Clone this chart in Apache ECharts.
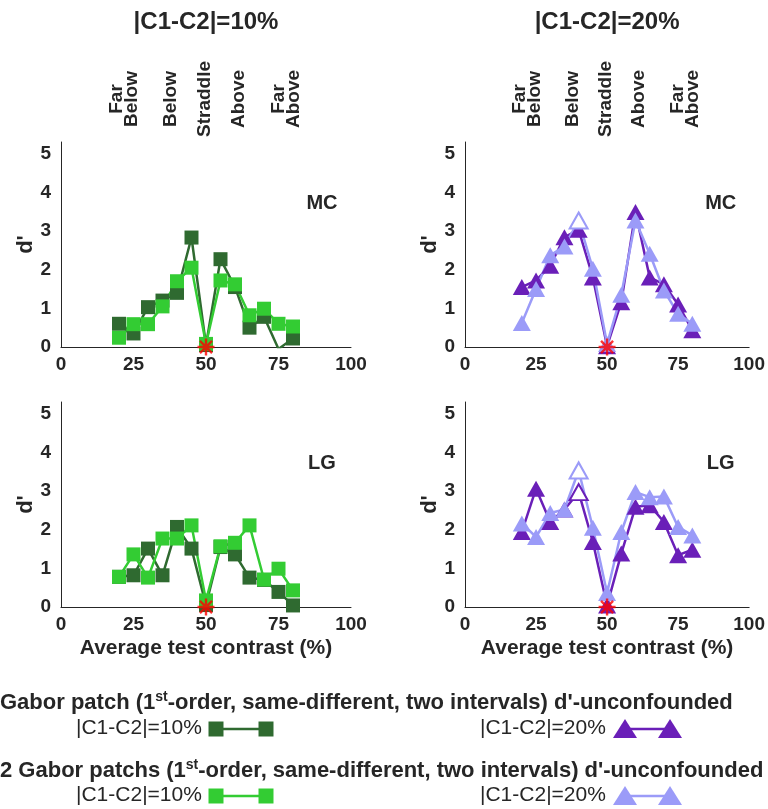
<!DOCTYPE html>
<html><head><meta charset="utf-8">
<script src="https://cdn.jsdelivr.net/npm/echarts@6/dist/echarts.min.js"></script>
<style>html,body{margin:0;padding:0;background:#fff}#c{width:768px;height:809px}</style>
</head><body><div id="c"></div>
<script>
// ---- data ----
const contrast = [20, 25, 30, 35, 40, 45, 50, 55, 60, 65, 70, 75, 80];
// MC observer
const mcOne10 = [0.6, 0.35, 1.03, 1.2, 1.4, 2.83, 0.05, 2.27, 1.55, 0.5, 0.78, -0.05, 0.22];
const mcTwo10 = [0.24, 0.59, 0.59, 1.05, 1.7, 2.05, 0.08, 1.72, 1.62, 0.82, 0.99, 0.6, 0.53];
const mcOne20 = [1.55, 1.72, 2.1, 2.84, 3.03, 1.8, 0.02, 1.16, 3.49, 1.8, 1.62, 1.1, 0.43];
const mcTwo20 = [0.62, 1.5, 2.37, 2.6, 3.27, 2.02, 0.08, 1.35, 3.27, 2.41, 1.46, 0.86, 0.6];
// LG observer
const lgOne10 = [0.78, 0.82, 1.51, 0.82, 2.07, 1.51, 0.05, 1.55, 1.36, 0.76, 0.7, 0.39, 0.04];
const lgTwo10 = [0.78, 1.36, 0.76, 1.77, 1.77, 2.11, 0.17, 1.57, 1.66, 2.11, 0.71, 0.99, 0.43];
const lgOne20 = [1.94, 3.06, 2.2, 2.52, 2.97, 1.68, 0.04, 1.38, 2.59, 2.63, 2.2, 1.34, 1.48];
const lgTwo20 = [2.16, 1.81, 2.43, 2.52, 3.53, 2.05, 0.36, 1.94, 2.97, 2.84, 2.86, 2.07, 1.85];
// open (unfilled) markers, by index into contrast
const openMcTwo20 = [4];
const openLgOne20 = [4];
const openLgTwo20 = [4];
const chancePoint = [50, 0];
const xTicks = [0, 25, 50, 75, 100];
const yTicks = [0, 1, 2, 3, 4, 5];
const topLabels = ['Far\nBelow', 'Below', 'Straddle', 'Above', 'Far\nAbove'];
const topLabelAt = [21.8, 37.8, 49.6, 61.2, 77.6];
const panelTitles = ['|C1-C2|=10%', '|C1-C2|=20%'];
const observers = ['MC', 'LG'];
const legendTitles = ['Gabor patch (1', 'st', '-order, same-different, two intervals) d\'-unconfounded',
                      '2 Gabor patchs (1', 'st', '-order, same-different, two intervals) d\'-unconfounded'];
const legendNames = ['|C1-C2|=10%', '|C1-C2|=20%'];

// ---- style ----
const FONT = '"Liberation Sans", Arial, Helvetica, sans-serif';
const INK = '#262626';
const DARK_GREEN = '#2f6a30';
const LIGHT_GREEN = '#33cc33';
const DARK_PURPLE = '#6a1fb8';
const LIGHT_PURPLE = '#9b9bf8';

const chart = echarts.init(document.getElementById('c'), null, {renderer: 'canvas'});

const grids = [
  {left: 61, top: 142, width: 290, height: 205},
  {left: 465, top: 142, width: 288, height: 205},
  {left: 61, top: 402, width: 290, height: 205},
  {left: 465, top: 402, width: 288, height: 205}
];

const xAxes = grids.map((g, i) => ({
  type: 'value', gridIndex: i, min: xTicks[0], max: xTicks[xTicks.length - 1], interval: 25,
  axisLine: {show: true, onZero: false, lineStyle: {color: INK, width: 1}},
  axisTick: {show: false}, splitLine: {show: false},
  axisLabel: {fontSize: 19, fontWeight: 'bold', color: INK, margin: 8, fontFamily: FONT},
  name: i >= 2 ? 'Average test contrast (%)' : '',
  nameLocation: 'middle', nameGap: 31,
  nameTextStyle: {fontSize: 21, fontWeight: 'bold', color: INK, fontFamily: FONT}
}));

const yAxes = grids.map((g, i) => ({
  type: 'value', gridIndex: i, min: yTicks[0], max: 5.3, interval: 1,
  axisLine: {show: true, lineStyle: {color: INK, width: 1}},
  axisTick: {show: false}, splitLine: {show: false},
  axisLabel: {fontSize: 19, fontWeight: 'bold', color: INK, margin: 10, fontFamily: FONT,
    showMaxLabel: false,
    formatter: v => (yTicks.indexOf(v) >= 0 ? String(v) : '')},
  name: "d'", nameLocation: 'middle', nameGap: 24, nameRotate: 90,
  nameTextStyle: {fontSize: 22, fontWeight: 'bold', color: INK, fontFamily: FONT}
}));

function pts(vals, open, color) {
  return contrast.map((x, i) => {
    if (open && open.indexOf(i) >= 0) {
      return {value: [x, vals[i]], itemStyle: {color: '#ffffff', borderColor: color, borderWidth: 2}};
    }
    return [x, vals[i]];
  });
}

function lineSeries(p, vals, color, shape, open) {
  return {
    type: 'line', xAxisIndex: p, yAxisIndex: p, data: pts(vals, open, color),
    symbol: shape === 'sq' ? 'rect' : 'triangle',
    symbolSize: shape === 'sq' ? 14 : [18, 16],
    showAllSymbol: true, clip: true, animation: false,
    lineStyle: {color: color, width: 2.5},
    itemStyle: {color: color, borderWidth: 0}
  };
}

const ASTERISK = 'path://M10,0L10,20M0,10L20,10M2.9,2.9L17.1,17.1M17.1,2.9L2.9,17.1';

const series = [
  lineSeries(0, mcOne10, DARK_GREEN, 'sq'),
  lineSeries(0, mcTwo10, LIGHT_GREEN, 'sq'),
  lineSeries(1, mcOne20, DARK_PURPLE, 'tri'),
  lineSeries(1, mcTwo20, LIGHT_PURPLE, 'tri', openMcTwo20),
  lineSeries(2, lgOne10, DARK_GREEN, 'sq'),
  lineSeries(2, lgTwo10, LIGHT_GREEN, 'sq'),
  lineSeries(3, lgOne20, DARK_PURPLE, 'tri', openLgOne20),
  lineSeries(3, lgTwo20, LIGHT_PURPLE, 'tri', openLgTwo20)
];
[0, 1, 2, 3].forEach(p => series.push({
  type: 'scatter', xAxisIndex: p, yAxisIndex: p, data: [chancePoint],
  symbol: ASTERISK, symbolSize: 17, clip: false, z: 10, animation: false,
  itemStyle: {color: 'rgba(0,0,0,0)', borderColor: '#ff0000', borderWidth: 2.4}
}));

chart.setOption({
  backgroundColor: '#ffffff',
  animation: false,
  textStyle: {fontFamily: FONT},
  grid: grids,
  xAxis: xAxes,
  yAxis: yAxes,
  series: series
});

// ---- text & legend graphics ----
const g = [];
[0, 1].forEach(c => {
  const xl = chart.convertToPixel({xAxisIndex: c}, 0);
  const xr = chart.convertToPixel({xAxisIndex: c}, 100);
  g.push({type: 'text', x: (xl + xr) / 2, y: 22,
    style: {text: panelTitles[c], font: 'bold 24px ' + FONT, fill: INK, textAlign: 'center', textVerticalAlign: 'middle'}});
  topLabels.forEach((t, k) => {
    g.push({type: 'text', x: chart.convertToPixel({xAxisIndex: c}, topLabelAt[k]), y: 99, rotation: Math.PI / 2,
      style: {text: t, font: 'bold 19px ' + FONT, fill: INK, textAlign: 'center', textVerticalAlign: 'middle', lineHeight: 15}});
  });
});
[0, 1, 2, 3].forEach(p => {
  const pt = chart.convertToPixel({xAxisIndex: p, yAxisIndex: p}, [90, 3.7]);
  g.push({type: 'text', x: pt[0], y: pt[1],
    style: {text: observers[p >= 2 ? 1 : 0], font: 'bold 20px ' + FONT, fill: INK, textAlign: 'center', textVerticalAlign: 'middle'}});
});

function titleText(x, y, a, s, b) {
  return {type: 'text', x: x, y: y,
    style: {text: '{n|' + a + '}{s|' + s + '}{n|' + b + '}', textAlign: 'left', textVerticalAlign: 'middle',
      rich: {n: {font: 'bold 22px ' + FONT, fill: INK, lineHeight: 26},
             s: {font: 'bold 14px ' + FONT, fill: INK, verticalAlign: 'top', lineHeight: 26}}}};
}
g.push(titleText(0, 703, legendTitles[0], legendTitles[1], legendTitles[2]));
g.push(titleText(0, 771, legendTitles[3], legendTitles[4], legendTitles[5]));

function legendRow(y, color, shape) {
  g.push({type: 'text', x: 76, y: y, style: {text: legendNames[0], font: '21px ' + FONT, fill: INK, textAlign: 'left', textVerticalAlign: 'middle'}});
  g.push({type: 'text', x: 480, y: y, style: {text: legendNames[1], font: '21px ' + FONT, fill: INK, textAlign: 'left', textVerticalAlign: 'middle'}});
  const c10 = color[0], c20 = color[1];
  g.push({type: 'line', shape: {x1: 216, y1: y + 1, x2: 266, y2: y + 1}, style: {stroke: c10, lineWidth: 2.5}});
  [216, 266].forEach(cx => g.push({type: 'rect', shape: {x: cx - 7.5, y: y + 1 - 7.5, width: 15, height: 15}, style: {fill: c10}}));
  g.push({type: 'line', shape: {x1: 625, y1: y + 1, x2: 670, y2: y + 1}, style: {stroke: c20, lineWidth: 2.5}});
  [625, 670].forEach(cx => g.push({type: 'polygon', shape: {points: [[cx, y + 1 - 10], [cx + 12, y + 1 + 9], [cx - 12, y + 1 + 9]]}, style: {fill: c20}}));
}
legendRow(728, [DARK_GREEN, DARK_PURPLE]);
legendRow(795, [LIGHT_GREEN, LIGHT_PURPLE]);

chart.setOption({graphic: {elements: g}});
</script>
</body></html>
